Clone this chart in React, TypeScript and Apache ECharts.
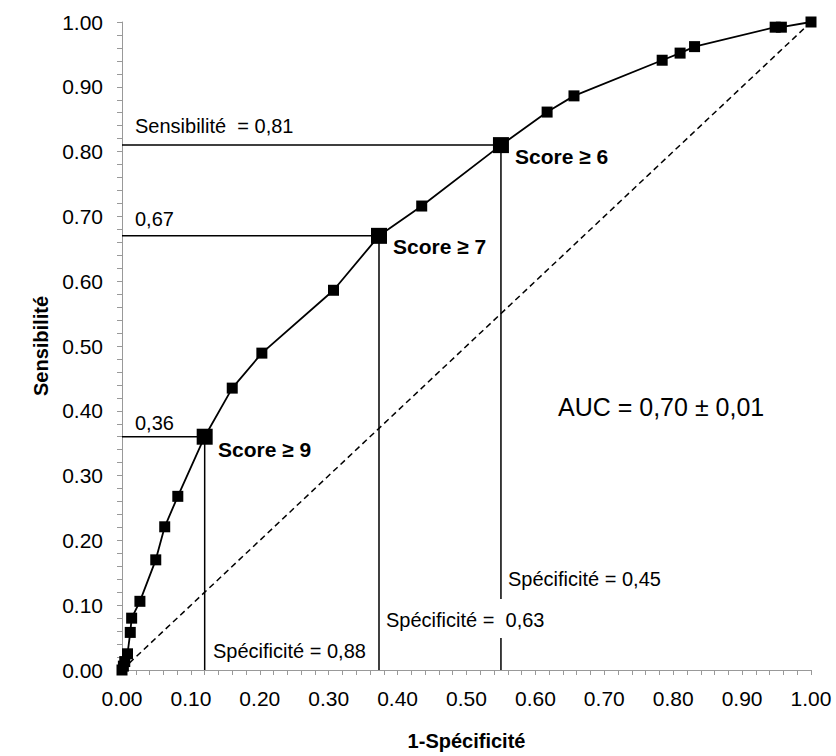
import React, { useEffect, useRef } from "react";
import * as echarts from "echarts";

// ROC curve points [1-Spécificité, Sensibilité]
const rocPoints: [number, number][] = [
  [0, 0], [0.002, 0.006], [0.004, 0.013], [0.008, 0.025], [0.012, 0.058],
  [0.014, 0.08], [0.026, 0.106], [0.049, 0.17], [0.062, 0.221], [0.081, 0.268],
  [0.12, 0.36], [0.16, 0.435], [0.203, 0.489], [0.307, 0.586], [0.373, 0.67],
  [0.435, 0.716], [0.55, 0.81], [0.617, 0.861], [0.656, 0.886], [0.784, 0.941],
  [0.81, 0.952], [0.831, 0.962], [0.948, 0.992], [0.957, 0.992], [1, 1],
];

// Highlighted thresholds
const thresholdLabels = ["Score ≥ 6", "Score ≥ 7", "Score ≥ 9"];
const thresholdPoints: [number, number][] = [
  [0.55, 0.81], [0.373, 0.67], [0.12, 0.36],
];

const diagonal: [number, number][] = [[0, 0], [1, 1]];

const FONT = "'Liberation Sans', Arial, Helvetica, sans-serif";

export default function App() {
  const ref = useRef<HTMLDivElement>(null);
  useEffect(() => {
    if (!ref.current) return;
    const chart = echarts.init(ref.current, undefined, { renderer: "svg" });

    const refLineSeries = thresholdPoints.map(([x, y], i) => ({
      type: "line",
      name: "ref" + i,
      data: [[0, y], [x, y], [x, 0]],
      symbol: "none",
      lineStyle: { color: "#000", width: 1.5 },
      z: 3,
      silent: true,
    }));

    const txt = (text: string, x: number, y: number, size: number, bold = false) => ({
      type: "text",
      x,
      y,
      z: 101,
      style: {
        text,
        fill: "#000",
        font: `${bold ? "bold " : ""}${size}px ${FONT}`,
        align: "left",
        verticalAlign: "middle",
        textAlign: "left",
        textVerticalAlign: "middle",
      },
    });

    const option: any = {
      animation: false,
      backgroundColor: "#fff",
      grid: { left: 122, right: 25, top: 22, bottom: 78, containLabel: false },
      xAxis: {
        type: "value",
        min: 0,
        max: 1,
        interval: 0.1,
        name: "1-Spécificité",
        nameLocation: "middle",
        nameGap: 61,
        nameTextStyle: { fontFamily: FONT, fontSize: 20, fontWeight: "bold", color: "#000" },
        axisLine: { show: true, onZero: false, lineStyle: { color: "#999", width: 1 } },
        axisTick: { show: true, length: 5, lineStyle: { color: "#999" } },
        minorTick: { show: true, splitNumber: 5, length: 5, lineStyle: { color: "#999" } },
        splitLine: { show: false },
        axisLabel: {
          margin: 18,
          fontFamily: FONT,
          fontSize: 21,
          color: "#000",
          formatter: (v: number) => v.toFixed(2),
        },
      },
      yAxis: {
        type: "value",
        min: 0,
        max: 1,
        interval: 0.1,
        name: "Sensibilité",
        nameLocation: "middle",
        nameGap: 70,
        nameTextStyle: { fontFamily: FONT, fontSize: 20, fontWeight: "bold", color: "#000" },
        axisLine: { show: true, onZero: false, lineStyle: { color: "#999", width: 1 } },
        axisTick: { show: true, length: 5, lineStyle: { color: "#999" } },
        minorTick: { show: true, splitNumber: 5, length: 5, lineStyle: { color: "#999" } },
        splitLine: { show: false },
        axisLabel: {
          margin: 19,
          fontFamily: FONT,
          fontSize: 21,
          color: "#000",
          formatter: (v: number) => v.toFixed(2),
        },
      },
      series: [
        {
          type: "line",
          name: "diag",
          data: diagonal,
          symbol: "none",
          lineStyle: { color: "#000", width: 1.5, type: [6, 4] },
          z: 2,
          silent: true,
        },
        ...refLineSeries,
        {
          type: "line",
          name: "ROC",
          data: rocPoints,
          symbol: "rect",
          symbolSize: 11,
          showAllSymbol: true,
          itemStyle: { color: "#000", opacity: 1 },
          lineStyle: { color: "#000", width: 1.8 },
          z: 4,
        },
        {
          type: "scatter",
          name: "thresholds",
          data: thresholdPoints,
          symbol: "rect",
          symbolSize: 16,
          itemStyle: { color: "#000", opacity: 1 },
          z: 5,
        },
      ],
      graphic: [
        txt("Sensibilité  = 0,81", 135, 126, 20),
        txt("0,67", 135, 219, 20),
        txt("0,36", 135, 423, 20),
        txt(thresholdLabels[0], 515, 156, 21, true),
        txt(thresholdLabels[1], 393, 246, 21, true),
        txt(thresholdLabels[2], 218, 449, 21, true),
        txt("AUC = 0,70 ± 0,01", 558, 407, 25),
        txt("Spécificité = 0,45", 508, 579, 20),
        {
          type: "rect",
          z: 100,
          shape: { x: 383, y: 599, width: 172, height: 39 },
          style: { fill: "#fff" },
        },
        txt("Spécificité =  0,63", 386, 620, 20),
        txt("Spécificité = 0,88", 213, 651, 20),
      ],
    };
    chart.setOption(option);
    return () => chart.dispose();
  }, []);
  return (
    <div
      ref={ref}
      style={{ position: "fixed", left: 0, top: 0, width: 836, height: 756 }}
    />
  );
}
